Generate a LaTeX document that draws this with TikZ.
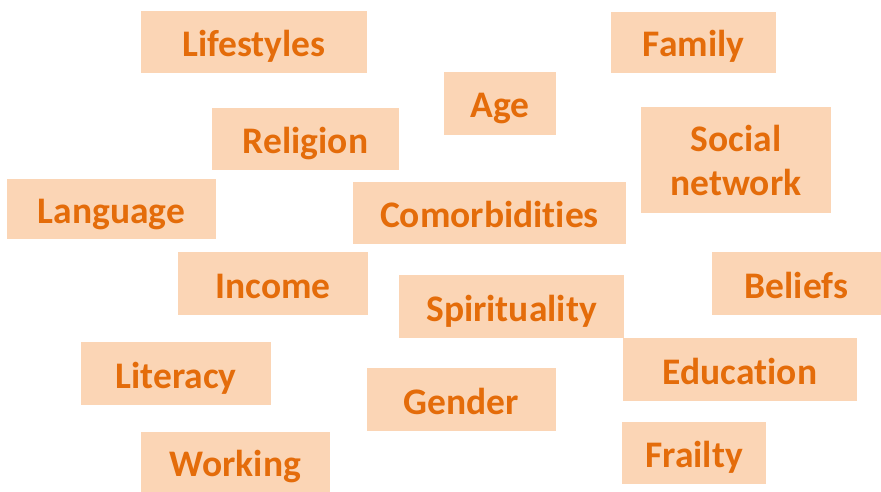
\documentclass[tikz,border=0pt]{standalone}
\usepackage{fontspec}
\setmainfont{Carlito}[Ligatures={NoCommon}]
\definecolor{boxfill}{HTML}{FBD5B5}
\definecolor{boxtext}{HTML}{E46C0A}
\tikzset{
  tagfont/.style={text=boxtext, font=\bfseries\fontsize{37.5}{45}\selectfont},
  tag/.style={fill=boxfill, tagfont, inner sep=0pt, align=center, text height=33pt, text depth=4pt},
  tagline/.style={tagfont, inner sep=0pt, anchor=base}
}
\newcommand{\tagbox}[6]{%
  \node[tag, minimum width={(#4-#2)*1pt}, minimum height={(#5-#3)*1pt}] (#1) at ({(#2+#4)/2*1pt},{-(#3+#5)/2*1pt}) {#6};}
\begin{document}
\begin{tikzpicture}
\useasboundingbox (0,0) rectangle (881pt,-492pt);
\tagbox{lifestyles}{141}{11}{367}{73}{Lifestyles}
\tagbox{family}{611}{12}{776}{73}{Family}
\tagbox{age}{444}{72}{556}{135}{Age}
\tagbox{religion}{212}{108}{399}{170}{Religion}
\node[fill=boxfill, inner sep=0pt, minimum width=190pt, minimum height=106pt] (social) at (736pt,-160pt) {};
\node[tagline] (socialA) at (736pt,-152pt) {Social};
\node[tagline] (socialB) at (736pt,-196pt) {network};
\tagbox{language}{7}{179}{216}{239}{Language}
\tagbox{comorb}{353}{182}{626}{244}{Comorbidities}
\tagbox{income}{178}{252}{368}{315}{Income}
\tagbox{beliefs}{712}{252}{881}{315}{Beliefs}
\tagbox{spirit}{399}{275}{624}{338}{Spirituality}
\tagbox{literacy}{81}{342}{271}{405}{Literacy}
\tagbox{education}{623}{338}{857}{401}{Education}
\tagbox{gender}{367}{368}{556}{431}{Gender}
\tagbox{working}{141}{432}{330}{492}{Working}
\tagbox{frailty}{622}{422}{766}{484}{Frailty}
\end{tikzpicture}
\end{document}
